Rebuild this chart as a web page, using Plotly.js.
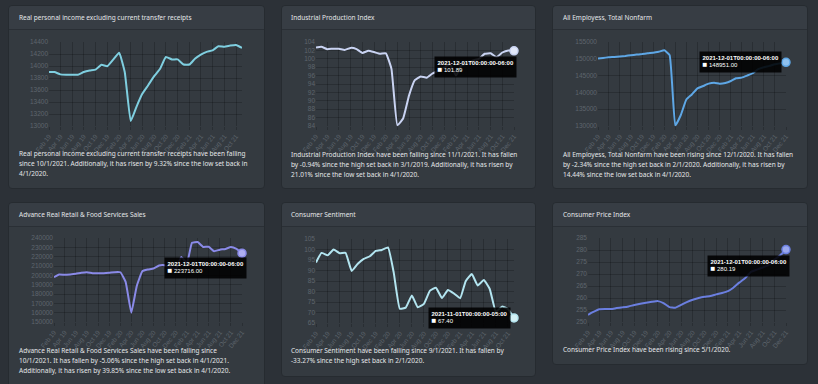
<!DOCTYPE html>
<html><head><meta charset="utf-8">
<script src="https://cdn.plot.ly/plotly-3.0.1.min.js"></script>
<style>
html,body{margin:0;padding:0;background:#2c3137;width:818px;height:384px;overflow:hidden;font-family:'Noto Sans',sans-serif;}
.card{position:absolute;background:#343a40;border:1px solid #262b30;border-radius:4px;box-sizing:border-box;}
.hdr{position:absolute;height:23px;line-height:23px;color:#e4e6e8;font-size:6.5px;white-space:nowrap;}
.hline{position:absolute;height:1px;background:#2a2f35;}
.hbg{position:absolute;background:#373d44;border-radius:4px 4px 0 0;}
.plot{position:absolute;}
.txt{position:absolute;color:#e4e6e8;font-size:6.5px;line-height:10px;white-space:nowrap;}
</style></head>
<body>
<div id="root"></div>
<script>
// ---- data ----
const months = ['2019-02-01','2019-03-01','2019-04-01','2019-05-01','2019-06-01','2019-07-01','2019-08-01','2019-09-01','2019-10-01','2019-11-01','2019-12-01',
'2020-01-01','2020-02-01','2020-03-01','2020-04-01','2020-05-01','2020-06-01','2020-07-01','2020-08-01','2020-09-01','2020-10-01','2020-11-01','2020-12-01',
'2021-01-01','2021-02-01','2021-03-01','2021-04-01','2021-05-01','2021-06-01','2021-07-01','2021-08-01','2021-09-01','2021-10-01','2021-11-01','2021-12-01'];
const monthsToNov = months.slice(0, 34);

const realIncome = [13900,13900,13860,13855,13855,13855,13900,13925,13940,14020,13995,
14105,14220,13900,13082,13320,13540,13680,13830,13955,14150,14110,14110,
14025,14025,14120,14190,14235,14260,14330,14320,14340,14350,14301];
const indProd = [102.7,102.86,102.3,102.4,102.4,102.1,102.6,102.3,101.4,101.9,101.6,
101.2,101.3,97.6,84.20,85.8,91.3,94.9,95.8,95.5,96.5,97.1,97.9,
98.7,96.0,98.4,98.9,99.6,100.0,101.2,101.3,100.4,101.5,102.0,101.89];
const nonfarm = [150100,150250,150450,150550,150700,150850,151050,151250,151400,151650,151800,
152100,152520,151100,130160,133200,137900,139400,141200,141900,142600,142900,142600,
142800,143400,144200,144400,145000,145700,146900,147500,147900,148400,148700,148951];
const retail = [198000,200900,200500,200900,201600,202700,203400,202300,202300,202300,202700,
203400,203300,193000,159970,188400,204400,206200,207300,210500,210800,208500,206500,
219700,213000,234800,235640,230400,230600,225800,227500,228300,230400,228300,223716];
const sentiment = [93.8,98.4,97.2,100.0,98.2,98.4,89.8,93.2,95.5,96.8,99.3,
99.8,101.0,89.1,71.8,72.3,78.1,72.5,74.1,80.4,81.8,76.9,80.7,
79.0,76.8,84.9,88.3,82.9,85.5,81.2,70.3,72.8,71.7,67.4];
const cpi = [253.0,254.2,255.3,255.4,255.4,255.8,256.1,256.5,257.1,257.6,258.0,
258.4,258.7,257.9,256.2,255.9,257.1,258.3,259.3,260.0,260.5,260.8,261.5,
262.1,262.9,264.3,266.4,268.2,270.9,271.8,272.7,273.8,276.0,277.8,280.19];

const titles = ['Real personal income excluding current transfer receipts','Industrial Production Index','All Employess, Total Nonfarm',
'Advance Real Retail &amp; Food Services Sales','Consumer Sentiment','Consumer Price Index'];
const descriptions = [
 'Real personal income excluding current transfer receipts have been falling<br>since 10/1/2021. Additionally, it has risen by 9.32% since the low set back in<br>4/1/2020.',
 'Industrial Production Index have been falling since 11/1/2021. It has fallen<br>by -0.94% since the high set back in 3/1/2019. Additionally, it has risen by<br>21.01% since the low set back in 4/1/2020.',
 'All Employess, Total Nonfarm have been rising since 12/1/2020. It has fallen<br>by -2.34% since the high set back in 2/1/2020. Additionally, it has risen by<br>14.44% since the low set back in 4/1/2020.',
 'Advance Real Retail &amp; Food Services Sales have been falling since<br>10/1/2021. It has fallen by -5.06% since the high set back in 4/1/2021.<br>Additionally, it has risen by 39.85% since the low set back in 4/1/2020.',
 'Consumer Sentiment have been falling since 9/1/2021. It has fallen by<br>-33.27% since the high set back in 2/1/2020.',
 'Consumer Price Index have been rising since 5/1/2020.'
];
const tooltipTitles = [null,'2021-12-01T00:00:00-06:00','2021-12-01T00:00:00-06:00','2021-12-01T00:00:00-06:00','2021-11-01T00:00:00-05:00','2021-12-01T00:00:00-06:00'];

// ---- layout / style ----
const panels = [
 {x:monthsToNov, y:realIncome, range:[13000,14400], step:200, color:'#7fcfe0', mfill:'#a8e0ea',
  card:[8,5,257,184], plot:{left:8,top:30,w:257,h:134,l:41,r:23,t:12,b:38}, hx:19, txtTop:149, tip:null},
 {x:months, y:indProd, range:[84,104], step:2, color:'#c9d3f2', mfill:'#e2e8fa',
  card:[281,5,255,184], plot:{left:281,top:30,w:255,h:134,l:35,r:22,t:12,b:38}, hx:291, txtTop:150, tip:{xa:'right',ya:'top',xs:3,ys:-5}},
 {x:months, y:nonfarm, range:[130000,155000], step:5000, color:'#5ea7e6', mfill:'#8fc1ee',
  card:[552,5,256,184], plot:{left:552,top:30,w:256,h:134,l:46,r:22,t:12,b:38}, hx:563, txtTop:150, tip:{xa:'right',ya:'middle',xs:-4,ys:0}},
 {x:months, y:retail, range:[150000,240000], step:10000, color:'#8a8ae8', mfill:'#aeaef0',
  card:[8,202,257,200], plot:{left:8,top:227,w:257,h:134,l:46,r:23,t:11,b:39}, hx:19, txtTop:346, tip:{xa:'right',ya:'top',xs:5,ys:-4}},
 {x:monthsToNov, y:sentiment, range:[65,105], step:5, color:'#b3e5f0', mfill:'#d4f1f6',
  card:[281,202,255,175], plot:{left:281,top:227,w:255,h:134,l:35,r:22,t:12,b:38}, hx:291, txtTop:346, tip:{xa:'right',ya:'middle',xs:-3,ys:0}},
 {x:months, y:cpi, range:[250,285], step:5, color:'#6b7fe0', mfill:'#9aa8ee',
  card:[552,202,256,163], plot:{left:552,top:227,w:256,h:134,l:36,r:22,t:11,b:39}, hx:563, txtTop:345, tip:{xa:'right',ya:'top',xs:4,ys:-5}}
];

const root = document.getElementById('root');
const tickFont = {family:'Liberation Sans, Arial, sans-serif', size:6.5, color:'#5e656d'};
const gridC = 'rgba(0,0,0,0.2)';

panels.forEach((p, i) => {
  const [cx, cy, cw, ch] = p.card;
  const card = document.createElement('div');
  card.className = 'card';
  card.style.cssText = `left:${cx}px;top:${cy}px;width:${cw}px;height:${ch}px;`;
  root.appendChild(card);
  const hbg = document.createElement('div');
  hbg.className = 'hbg';
  hbg.style.cssText = `left:${cx+1}px;top:${cy+1}px;width:${cw-2}px;height:23px;`;
  root.appendChild(hbg);
  const hl = document.createElement('div');
  hl.className = 'hline';
  hl.style.cssText = `left:${cx+1}px;top:${cy+24}px;width:${cw-2}px;`;
  root.appendChild(hl);
  const h = document.createElement('div');
  h.className = 'hdr';
  h.style.cssText = `left:${p.hx}px;top:${cy+1}px;`;
  h.innerHTML = titles[i];
  root.appendChild(h);

  const d = document.createElement('div');
  d.className = 'plot';
  d.style.cssText = `left:${p.plot.left}px;top:${p.plot.top}px;width:${p.plot.w}px;height:${p.plot.h}px;`;
  root.appendChild(d);

  const t = document.createElement('div');
  t.className = 'txt';
  t.style.cssText = `left:${p.hx}px;top:${p.txtTop}px;`;
  t.innerHTML = descriptions[i];
  root.appendChild(t);

  const n = p.y.length;
  const lastX = p.x[n-1], lastY = p.y[n-1];
  const traces = [{x:p.x, y:p.y, type:'scatter', mode:'lines', line:{color:p.color, width:2, shape:'spline', smoothing:0.35}, hoverinfo:'skip', cliponaxis:false}];
  const annotations = [];
  if (p.tip) {
    traces.push({x:[lastX], y:[lastY], type:'scatter', mode:'markers', marker:{size:8, color:p.mfill, line:{color:p.color, width:1.5}}, cliponaxis:false, hoverinfo:'skip'});
    annotations.push({x:lastX, y:lastY, xref:'x', yref:'y', showarrow:false, xanchor:p.tip.xa, yanchor:p.tip.ya,
      xshift:p.tip.xs, yshift:p.tip.ys, align:'left', bgcolor:'rgba(0,0,0,0.88)', borderpad:2.5,
      font:{family:'Liberation Sans, Arial, sans-serif', size:6, color:'#ffffff'},
      text:'<b>'+tooltipTitles[i]+'</b><br><span style="font-size:8px">■</span> '+lastY.toFixed(2)});
  }
  const layout = {
    width:p.plot.w, height:p.plot.h,
    margin:{l:p.plot.l, r:p.plot.r, t:p.plot.t, b:p.plot.b, pad:0},
    paper_bgcolor:'rgba(0,0,0,0)', plot_bgcolor:'rgba(0,0,0,0)',
    showlegend:false,
    xaxis:{type:'date', range:[p.x[0], lastX], tick0:'2019-02-01', dtick:'M2', tickformat:'%b %y', tickangle:-52,
      tickfont:tickFont, showgrid:true, gridcolor:gridC, gridwidth:1, zeroline:false, showline:false,
      ticks:'outside', ticklen:3, tickcolor:gridC, automargin:false, fixedrange:true},
    yaxis:{range:p.range, tick0:p.range[0], dtick:p.step, tickformat:'d', tickfont:tickFont, showgrid:true, gridcolor:gridC,
      gridwidth:1, zeroline:false, showline:false, ticks:'', automargin:false, fixedrange:true},
    annotations:annotations
  };
  Plotly.newPlot(d, traces, layout, {staticPlot:true, displayModeBar:false});
});
</script>
</body></html>
